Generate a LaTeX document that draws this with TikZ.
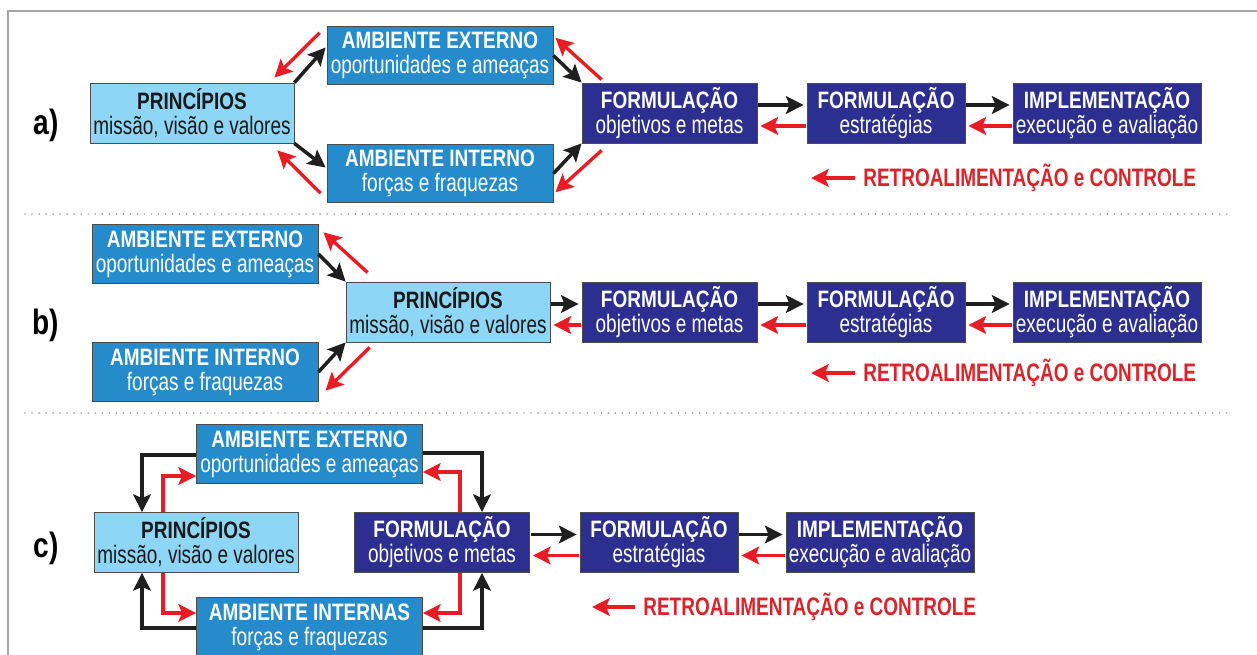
\documentclass[tikz,border=0pt]{standalone}
\usepackage{fontspec}
\setmainfont{Liberation Sans}
\newfontfamily\titlefnt[FakeStretch=0.8]{Liberation Sans}
\newfontfamily\subfnt[FakeStretch=0.75]{Liberation Sans}
\usepackage{xcolor}
\usepackage{tikz}
\usetikzlibrary{calc,arrows.meta}

\definecolor{boxpale}{RGB}{142,214,245}
\definecolor{boxmid}{RGB}{38,139,202}
\definecolor{boxdeep}{RGB}{44,47,143}
\definecolor{fbred}{RGB}{232,28,36}
\definecolor{fbtext}{RGB}{214,38,44}

\newcommand{\boxtxt}[2]{{\titlefnt\bfseries\fontsize{13.5}{14.2}\selectfont #1}\\{\subfnt\fontsize{14.4}{14.2}\selectfont #2}}

\tikzset{
  box/.style={draw=black!70, line width=0.5pt, inner sep=0pt, align=center, font=\fontsize{12}{14.2}\selectfont},
  pr/.style={box, fill=boxpale, text=black!90, minimum width=4.08cm, minimum height=1.2cm},
  amb/.style={box, fill=boxmid, text=white, minimum width=4.52cm, minimum height=1.17cm},
  fo/.style={box, fill=boxdeep, text=white, minimum height=1.2cm},
  blk/.style={-{Stealth[length=10pt,width=10pt,inset=2pt]}, line width=2pt, black!88},
  rd/.style={-{Stealth[length=10pt,width=10pt,inset=2pt]}, line width=1.9pt, fbred},
  note/.style={inner sep=0pt, text=fbtext, font=\subfnt\bfseries\fontsize{14.4}{14}\selectfont},
  lbl/.style={inner sep=0pt, font=\titlefnt\bfseries\fontsize{20}{20}\selectfont},
  sep/.style={gray!70, line width=1.1pt, line cap=round, dash pattern=on 0pt off 4pt}
}

\begin{document}
\begin{tikzpicture}[x=0.02cm, y=-0.02cm]

\useasboundingbox (0,0) rectangle (1257,655);
\fill[white] (0,0) rectangle (1257,655);
\path[draw, gray!70, line width=1.2pt] (8,665) -- (8,11) -- (1265,11);
\path[draw, sep] (25,214) -- (1230,214);
\path[draw, sep] (25,413) -- (1230,413);

% a)
\node[lbl] (la) at (46,125) {a)};
\node[pr] (a1) at (192,113) {\boxtxt{PRINCÍPIOS}{missão, visão e valores}};
\node[amb] (a2) at (440,55.5) {\boxtxt{AMBIENTE EXTERNO}{oportunidades e ameaças}};
\node[amb] (a3) at (440,173.5) {\boxtxt{AMBIENTE INTERNO}{forças e fraquezas}};
\node[fo, minimum width=3.5cm] (a4) at (669.5,113) {\boxtxt{FORMULAÇÃO}{objetivos e metas}};
\node[fo, minimum width=3.16cm] (a5) at (886,113) {\boxtxt{FORMULAÇÃO}{estratégias}};
\node[fo, minimum width=3.76cm] (a6) at (1107,113) {\boxtxt{IMPLEMENTAÇÃO}{execução e avaliação}};
\node[note, anchor=west] (a7) at (863,178) {RETROALIMENTAÇÃO e CONTROLE};
\coordinate (a8) at (811,178);

\path[draw, blk] (a1.north east) -- ($(a2.west)+(-1,-8)$);
\path[draw, rd] ($(a2.north west)+(-7,7)$) -- ($(a1.north east)+(-20,-5)$);
\path[draw, blk] (a1.south east) -- ($(a3.west)+(-1,-6)$);
\path[draw, rd] ($(a3.south west)+(-6,-10)$) -- ($(a1.south east)+(-17,7)$);
\path[draw, blk] (a2.east) -- (a4.north west);
\path[draw, rd] ($(a4.north west)+(20,-3)$) -- ($(a2.north east)+(2,12)$);
\path[draw, blk] (a3.east) -- (a4.south west);
\path[draw, rd] ($(a4.south west)+(20,7)$) -- ($(a3.south east)+(2,-11)$);
\path[draw, blk] ($(a4.east)+(1,-8)$) -- ($(a5.west)+(-3,-8)$);
\path[draw, rd] ($(a5.west)+(-1,13)$) -- ($(a4.east)+(3,13)$);
\path[draw, blk] ($(a5.east)+(1,-8)$) -- ($(a6.west)+(-3,-8)$);
\path[draw, rd] ($(a6.west)+(-1,13)$) -- ($(a5.east)+(3,13)$);
\path[draw, rd] ($(a7.west)+(-8,0)$) -- (a8);

% b)
\node[lbl] (lb) at (46,325) {b)};
\node[pr] (b1) at (448,312) {\boxtxt{PRINCÍPIOS}{missão, visão e valores}};
\node[amb] (b2) at (205,254) {\boxtxt{AMBIENTE EXTERNO}{oportunidades e ameaças}};
\node[amb] (b3) at (205,372) {\boxtxt{AMBIENTE INTERNO}{forças e fraquezas}};
\node[fo, minimum width=3.5cm] (b4) at (669.5,312) {\boxtxt{FORMULAÇÃO}{objetivos e metas}};
\node[fo, minimum width=3.16cm] (b5) at (886,312) {\boxtxt{FORMULAÇÃO}{estratégias}};
\node[fo, minimum width=3.76cm] (b6) at (1107,312) {\boxtxt{IMPLEMENTAÇÃO}{execução e avaliação}};
\node[note, anchor=west] (b7) at (863,373) {RETROALIMENTAÇÃO e CONTROLE};
\coordinate (b8) at (811,373);

\path[draw, blk] (b2.east) -- (b1.north west);
\path[draw, rd] ($(b1.north west)+(22,-9)$) -- ($(b2.north east)+(5,8)$);
\path[draw, blk] (b3.east) -- (b1.south west);
\path[draw, rd] ($(b1.south west)+(24,5)$) -- ($(b3.south east)+(7,-11)$);
\path[draw, blk] ($(b1.east)+(1,-8)$) -- ($(b4.west)+(-3,-8)$);
\path[draw, rd] ($(b4.west)+(-1,13)$) -- ($(b1.east)+(3,13)$);
\path[draw, blk] ($(b4.east)+(1,-8)$) -- ($(b5.west)+(-3,-8)$);
\path[draw, rd] ($(b5.west)+(-1,13)$) -- ($(b4.east)+(3,13)$);
\path[draw, blk] ($(b5.east)+(1,-8)$) -- ($(b6.west)+(-3,-8)$);
\path[draw, rd] ($(b6.west)+(-1,13)$) -- ($(b5.east)+(3,13)$);
\path[draw, rd] ($(b7.west)+(-8,0)$) -- (b8);

% c)
\node[lbl] (lc) at (46,548) {c)};
\node[pr] (c1) at (196,542.5) {\boxtxt{PRINCÍPIOS}{missão, visão e valores}};
\node[amb] (c2) at (309.5,454) {\boxtxt{AMBIENTE EXTERNO}{oportunidades e ameaças}};
\node[amb] (c3) at (309.5,627) {\boxtxt{AMBIENTE INTERNAS}{forças e fraquezas}};
\node[fo, minimum width=3.5cm] (c4) at (442,542.5) {\boxtxt{FORMULAÇÃO}{objetivos e metas}};
\node[fo, minimum width=3.16cm] (c5) at (659,542.5) {\boxtxt{FORMULAÇÃO}{estratégias}};
\node[fo, minimum width=3.76cm] (c6) at (880,542.5) {\boxtxt{IMPLEMENTAÇÃO}{execução e avaliação}};
\node[note, anchor=west] (c7) at (643,607) {RETROALIMENTAÇÃO e CONTROLE};
\coordinate (c8) at (592,607);

\path[draw, blk] ($(c2.west)+(0,1)$) -| ($(c1.north)+(-54,0)$);
\path[draw, rd] ($(c1.north)+(-33,0)$) |- ($(c2.west)+(0,22)$);
\path[draw, blk] ($(c3.west)+(0,1)$) -| ($(c1.south)+(-54,0)$);
\path[draw, rd] ($(c1.south)+(-33,0)$) |- ($(c3.west)+(0,-14)$);
\path[draw, blk] ($(c2.east)+(0,-1)$) -| ($(c4.north)+(40,0)$);
\path[draw, rd] ($(c4.north)+(18,0)$) |- ($(c2.east)+(0,18)$);
\path[draw, blk] ($(c3.east)+(0,1)$) -| ($(c4.south)+(40,0)$);
\path[draw, rd] ($(c4.south)+(18,0)$) |- ($(c3.east)+(0,-14)$);
\path[draw, blk] ($(c4.east)+(1,-8)$) -- ($(c5.west)+(-3,-8)$);
\path[draw, rd] ($(c5.west)+(-1,13)$) -- ($(c4.east)+(3,13)$);
\path[draw, blk] ($(c5.east)+(1,-8)$) -- ($(c6.west)+(-3,-8)$);
\path[draw, rd] ($(c6.west)+(-1,13)$) -- ($(c5.east)+(3,13)$);
\path[draw, rd] ($(c7.west)+(-8,0)$) -- (c8);

\end{tikzpicture}
\end{document}
